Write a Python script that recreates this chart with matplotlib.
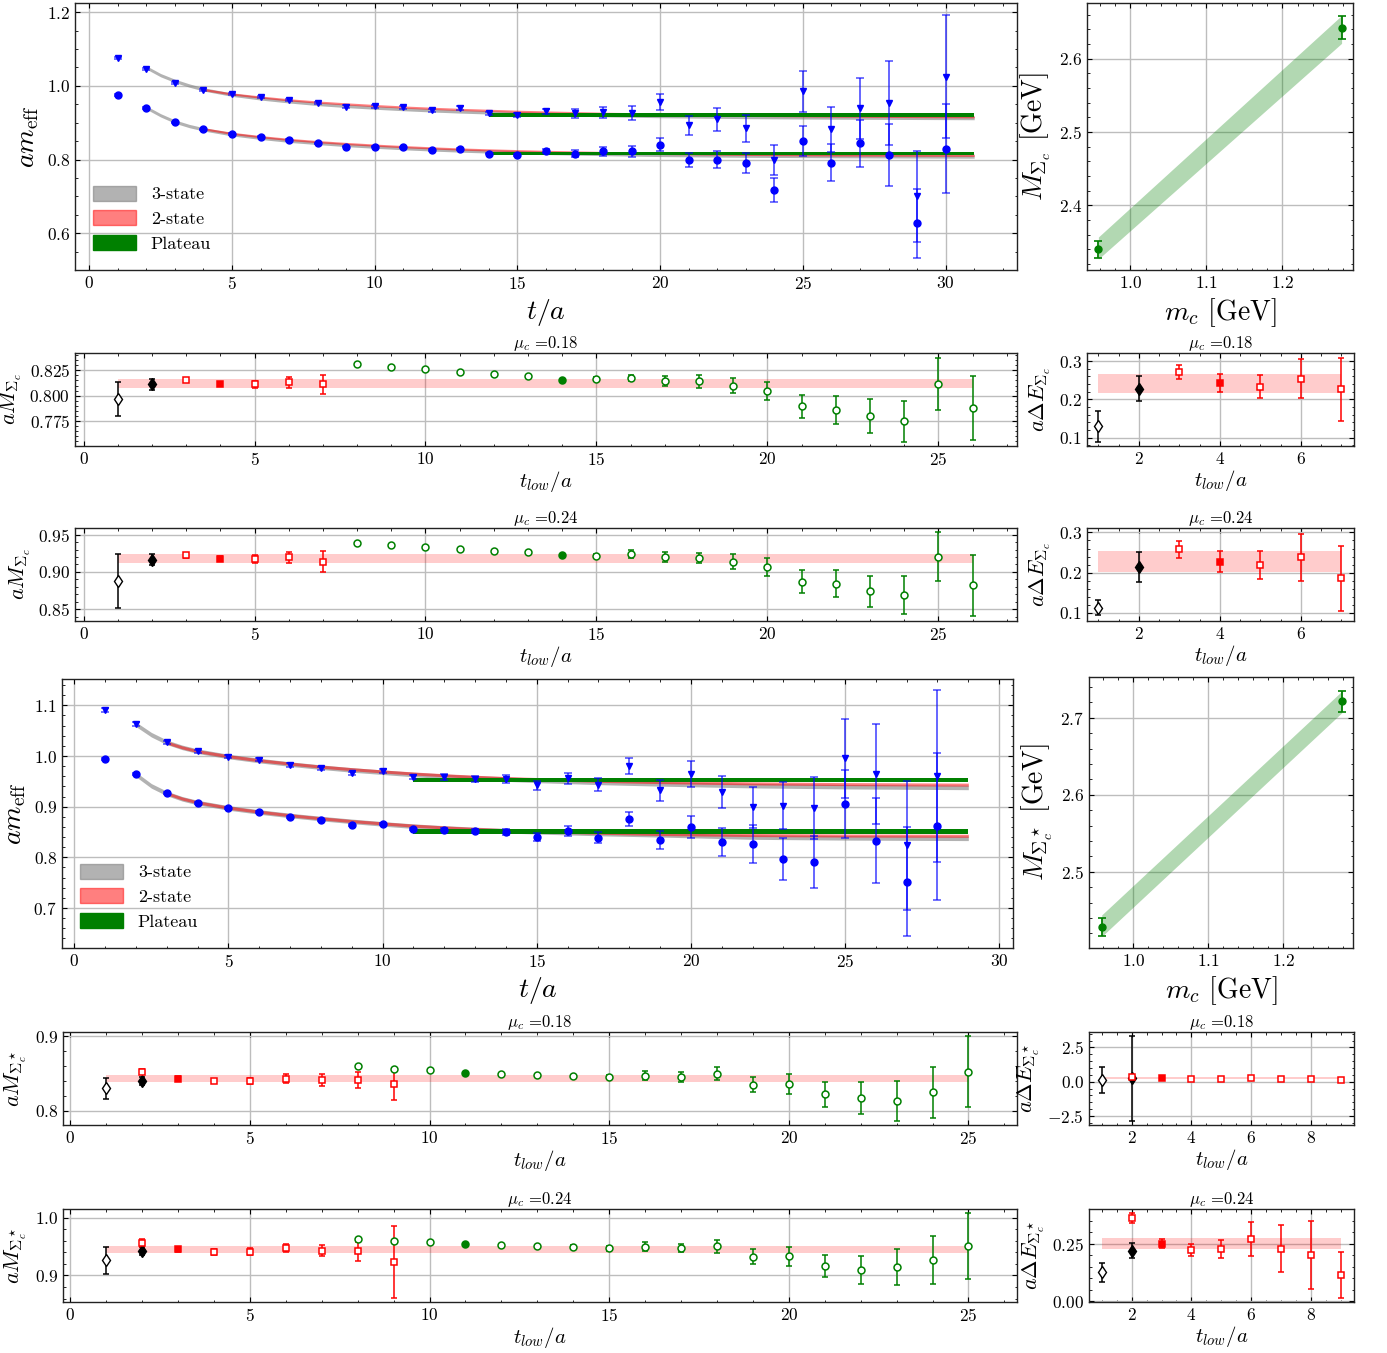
import numpy as np
import matplotlib
matplotlib.use("Agg")
import matplotlib.pyplot as plt
from matplotlib.patches import Patch
from matplotlib.ticker import AutoMinorLocator, MultipleLocator

plt.rcParams.update({
    "font.family": "serif",
    "font.serif": ["cmr10"],
    "mathtext.fontset": "cm",
    "axes.formatter.use_mathtext": True,
    "axes.linewidth": 1.0,
    "axes.edgecolor": "#222222",
    "xtick.major.size": 3.5,
    "ytick.major.size": 3.5,
    "xtick.minor.size": 1.8,
    "ytick.minor.size": 1.8,
})

# ---------------- effective masses, Sigma_c ----------------
sc_t = list(range(1, 31))
sc_circ = [0.9756, 0.9405, 0.9008, 0.8818, 0.8692, 0.862, 0.853, 0.844, 0.835, 0.835,
           0.833, 0.826, 0.829, 0.816, 0.8133, 0.824, 0.816, 0.8223, 0.8223, 0.8403,
           0.798, 0.7997, 0.7907, 0.7176, 0.8502, 0.7916, 0.844, 0.8133, 0.6266, 0.8295]
sc_circ_err = [0.002, 0.002, 0.002, 0.002, 0.002, 0.002, 0.002, 0.002, 0.002, 0.002,
               0.002, 0.002, 0.002, 0.002, 0.003, 0.0054, 0.009, 0.012, 0.0144, 0.017,
               0.019, 0.024, 0.028, 0.032, 0.042, 0.0496, 0.064, 0.084, 0.094, 0.12]
sc_tri = [1.0767, 1.046, 1.008, 0.989, 0.9775, 0.970, 0.962, 0.954, 0.943, 0.945,
          0.942, 0.934, 0.9396, 0.925, 0.9206, 0.9305, 0.925, 0.9278, 0.926, 0.9558,
          0.8927, 0.9089, 0.8845, 0.798, 0.9856, 0.8818, 0.9387, 0.9522, 0.6996, 1.0244]
sc_tri_err = [0.003, 0.003, 0.003, 0.003, 0.003, 0.003, 0.003, 0.003, 0.004, 0.004,
              0.004, 0.004, 0.005, 0.005, 0.005, 0.006, 0.011, 0.0158, 0.018, 0.0225,
              0.0248, 0.0316, 0.037, 0.041, 0.056, 0.062, 0.082, 0.114, 0.124, 0.167]

sc_fit3_t = [2, 2.5, 3, 3.5, 4, 5, 6, 7, 8, 9, 10, 11, 12, 13, 14, 15, 16, 18, 20, 23, 26, 31]
sc_fit3_lo = [0.941, 0.920, 0.903, 0.891, 0.882, 0.8685, 0.859, 0.851, 0.845, 0.8395, 0.835,
              0.831, 0.8275, 0.8245, 0.822, 0.820, 0.818, 0.815, 0.8125, 0.8105, 0.8092, 0.808]
sc_fit3_hi = [1.050, 1.029, 1.0135, 1.001, 0.9905, 0.976, 0.966, 0.958, 0.951, 0.9455, 0.941,
              0.937, 0.9335, 0.9305, 0.928, 0.926, 0.924, 0.9205, 0.918, 0.9155, 0.914, 0.9125]
sc_fit2_t = [4, 5, 6, 7, 8, 9, 10, 11, 12, 13, 14, 15, 16, 18, 20, 23, 26, 31]
sc_fit2_lo = [0.8835, 0.871, 0.862, 0.8545, 0.8485, 0.8435, 0.839, 0.835, 0.8315, 0.8285,
              0.826, 0.824, 0.822, 0.819, 0.8165, 0.814, 0.8125, 0.8115]
sc_fit2_hi = [0.990, 0.978, 0.9695, 0.962, 0.956, 0.951, 0.9465, 0.9425, 0.939, 0.936,
              0.9335, 0.931, 0.929, 0.9255, 0.923, 0.920, 0.918, 0.916]
sc_plat_t = [14, 31]
sc_plat_lo = 0.8155
sc_plat_hi = 0.9206

# ---------------- effective masses, Sigma_c^* ----------------
ss_t = list(range(1, 29))
ss_circ = [0.9934, 0.9638, 0.9263, 0.9079, 0.8967, 0.8901, 0.8803, 0.873, 0.8638, 0.8658,
           0.8553, 0.854, 0.8526, 0.850, 0.8395, 0.852, 0.8388, 0.8763, 0.8342, 0.8599,
           0.8303, 0.8263, 0.7967, 0.7914, 0.9046, 0.8329, 0.752, 0.8612]
ss_circ_err = [0.002, 0.002, 0.002, 0.002, 0.002, 0.002, 0.002, 0.002, 0.002, 0.002,
               0.002, 0.003, 0.004, 0.005, 0.0082, 0.0099, 0.011, 0.0138, 0.0174, 0.0217,
               0.027, 0.0368, 0.041, 0.0513, 0.0668, 0.0836, 0.1076, 0.145]
ss_tri = [1.0908, 1.0632, 1.027, 1.0092, 0.9987, 0.9928, 0.9822, 0.9757, 0.9664, 0.9704,
          0.9586, 0.9586, 0.9553, 0.9546, 0.942, 0.956, 0.9434, 0.981, 0.9322, 0.9645,
          0.929, 0.8987, 0.902, 0.8974, 0.996, 0.9645, 0.8237, 0.960]
ss_tri_err = [0.003, 0.003, 0.003, 0.003, 0.003, 0.003, 0.003, 0.003, 0.003, 0.004,
              0.004, 0.005, 0.006, 0.007, 0.0092, 0.011, 0.013, 0.0158, 0.021, 0.0266,
              0.032, 0.041, 0.046, 0.061, 0.078, 0.099, 0.127, 0.17]

ss_fit3_t = [2, 2.5, 3, 3.5, 4, 5, 6, 7, 8, 9, 10, 11, 12, 13, 14, 15, 17, 19, 22, 25, 29]
ss_fit3_lo = [0.9635, 0.941, 0.926, 0.9155, 0.908, 0.8975, 0.8895, 0.8825, 0.8765, 0.871, 0.866,
              0.8615, 0.858, 0.855, 0.8525, 0.8505, 0.847, 0.8445, 0.840, 0.8385, 0.8375]
ss_fit3_hi = [1.0625, 1.042, 1.027, 1.017, 1.0095, 0.999, 0.991, 0.984, 0.978, 0.9725, 0.968,
              0.9635, 0.960, 0.957, 0.9545, 0.952, 0.948, 0.945, 0.9415, 0.9395, 0.938]
ss_fit2_t = [3, 3.5, 4, 5, 6, 7, 8, 9, 10, 11, 12, 13, 14, 15, 17, 19, 22, 25, 29]
ss_fit2_lo = [0.9265, 0.916, 0.9085, 0.898, 0.890, 0.883, 0.877, 0.8715, 0.867, 0.8625,
              0.859, 0.856, 0.8535, 0.8515, 0.8485, 0.846, 0.844, 0.843, 0.8425]
ss_fit2_hi = [1.0265, 1.017, 1.0095, 0.9995, 0.9915, 0.985, 0.979, 0.974, 0.9695, 0.9655,
              0.962, 0.959, 0.9565, 0.9545, 0.951, 0.9485, 0.946, 0.9445, 0.9435]
ss_plat_t = [11, 29]
ss_plat_lo = 0.8513
ss_plat_hi = 0.9530

# ---------------- charm-mass dependence ----------------
mc = [0.958, 1.278]
msc = [2.340, 2.642]
msc_err = [0.0116, 0.0156]
msc_band_c = [2.342, 2.640]
msc_band_w = [0.015, 0.019]
mss = [2.4286, 2.7216]
mss_err = [0.012, 0.0136]
mss_band_c = [2.430, 2.7205]
mss_band_w = [0.014, 0.014]

# ---------------- t_low scans, Sigma_c ----------------
c18_dia = [0.7967, 0.8112]
c18_dia_err = [0.0164, 0.0053]
c18_red_t = [3, 4, 5, 6, 7]
c18_red = [0.8158, 0.8118, 0.8112, 0.8132, 0.8112]
c18_red_err = [0.0015, 0.002, 0.0036, 0.0056, 0.0092]
c18_grn_t = list(range(8, 27))
c18_grn = [0.8309, 0.828, 0.826, 0.8234, 0.8211, 0.8194, 0.8158, 0.816, 0.8174, 0.8141,
           0.814, 0.810, 0.8046, 0.7895, 0.786, 0.7796, 0.7747, 0.8115, 0.788]
c18_grn_err = [0.001, 0.001, 0.001, 0.001, 0.001, 0.001, 0.001, 0.002, 0.0033, 0.005,
               0.006, 0.0076, 0.009, 0.0115, 0.0135, 0.0168, 0.0204, 0.026, 0.0317]
c18_band = (0.8122, 0.0047)

c24_dia = [0.888, 0.9165]
c24_dia_err = [0.036, 0.007]
c24_red_t = [3, 4, 5, 6, 7]
c24_red = [0.9223, 0.918, 0.917, 0.9196, 0.9138]
c24_red_err = [0.003, 0.003, 0.0056, 0.0076, 0.014]
c24_grn_t = list(range(8, 27))
c24_grn = [0.939, 0.936, 0.934, 0.931, 0.9286, 0.9263, 0.9223, 0.9219, 0.9237, 0.9205,
           0.919, 0.9138, 0.907, 0.887, 0.884, 0.874, 0.869, 0.9205, 0.882]
c24_grn_err = [0.001, 0.001, 0.001, 0.001, 0.001, 0.001, 0.001, 0.002, 0.0054, 0.0067,
               0.007, 0.0096, 0.0123, 0.015, 0.018, 0.021, 0.025, 0.033, 0.041]
c24_band = (0.9177, 0.006)

dc18_dia = [0.129, 0.228]
dc18_dia_err = [0.040, 0.0335]
dc18_red_t = [3, 4, 5, 6, 7]
dc18_red = [0.272, 0.242, 0.233, 0.254, 0.226]
dc18_red_err = [0.018, 0.0235, 0.030, 0.051, 0.083]
dc18_band = (0.241, 0.024)

dc24_dia = [0.113, 0.214]
dc24_dia_err = [0.0185, 0.037]
dc24_red_t = [3, 4, 5, 6, 7]
dc24_red = [0.258, 0.227, 0.219, 0.238, 0.186]
dc24_red_err = [0.0206, 0.026, 0.034, 0.059, 0.080]
dc24_band = (0.2285, 0.026)

# ---------------- t_low scans, Sigma_c^* ----------------
s18_dia = [0.8305, 0.8404]
s18_dia_err = [0.0141, 0.005]
s18_red_t = [2, 3, 4, 5, 6, 7, 8, 9]
s18_red = [0.8529, 0.8435, 0.8404, 0.840, 0.8435, 0.842, 0.8417, 0.8359]
s18_red_err = [0.003, 0.003, 0.003, 0.004, 0.0056, 0.008, 0.0105, 0.0213]
s18_grn_t = list(range(8, 26))
s18_grn = [0.8605, 0.8565, 0.8547, 0.8511, 0.8498, 0.848, 0.8466, 0.8453, 0.8475, 0.8457,
           0.850, 0.8354, 0.8363, 0.822, 0.817, 0.813, 0.8247, 0.8529]
s18_grn_err = [0.001, 0.001, 0.001, 0.001, 0.001, 0.001, 0.002, 0.003, 0.006, 0.007,
               0.0083, 0.0099, 0.0135, 0.0168, 0.0215, 0.0265, 0.0345, 0.048]
s18_band = (0.8435, 0.0045)

s24_dia = [0.9266, 0.9428]
s24_dia_err = [0.0234, 0.007]
s24_red_t = [2, 3, 4, 5, 6, 7, 8, 9]
s24_red = [0.956, 0.945, 0.941, 0.941, 0.9468, 0.9428, 0.9416, 0.9237]
s24_red_err = [0.0067, 0.005, 0.005, 0.006, 0.007, 0.0098, 0.0168, 0.0627]
s24_grn_t = list(range(8, 26))
s24_grn = [0.9624, 0.9595, 0.9572, 0.9538, 0.9526, 0.9503, 0.9491, 0.9468, 0.9497, 0.9468,
           0.9503, 0.9324, 0.933, 0.9162, 0.9092, 0.9145, 0.9266, 0.9514]
s24_grn_err = [0.001, 0.001, 0.001, 0.001, 0.001, 0.001, 0.003, 0.004, 0.008, 0.007,
               0.0113, 0.0127, 0.016, 0.0197, 0.0246, 0.031, 0.041, 0.057]
s24_band = (0.945, 0.006)

ds18_dia = [0.12, 0.24]
ds18_dia_err = [0.95, 3.1]
ds18_red_t = [2, 3, 4, 5, 6, 7, 8, 9]
ds18_red = [0.34, 0.25, 0.20, 0.20, 0.27, 0.22, 0.22, 0.12]
ds18_red_err = [0.05, 0.05, 0.05, 0.05, 0.05, 0.05, 0.05, 0.05]
ds18_band = (0.25, 0.09)

ds24_dia = [0.1257, 0.2208]
ds24_dia_err = [0.0417, 0.0336]
ds24_red_t = [2, 3, 4, 5, 6, 7, 8, 9]
ds24_red = [0.3626, 0.25, 0.2237, 0.2266, 0.272, 0.2295, 0.203, 0.114]
ds24_red_err = [0.0205, 0.0197, 0.0278, 0.0387, 0.075, 0.104, 0.148, 0.099]
ds24_band = (0.2515, 0.025)


W, H = 1387, 1353
fig = plt.figure(figsize=(W / 100, H / 100), dpi=100)


def box(l, t, r, b):
    return fig.add_axes([l / W, 1 - b / H, (r - l) / W, (b - t) / H])


def style(ax, xstep, ystep, xlim, ylim):
    ax.xaxis.set_major_locator(MultipleLocator(xstep))
    ax.yaxis.set_major_locator(MultipleLocator(ystep))
    ax.xaxis.set_minor_locator(AutoMinorLocator())
    ax.yaxis.set_minor_locator(AutoMinorLocator())
    ax.tick_params(which="both", direction="in", top=True, right=True, labelsize=12.5)
    ax.grid(True, which="major", color="#bdbdbd", lw=1.0)
    ax.set_axisbelow(True)
    ax.set_xlim(*xlim)
    ax.set_ylim(*ylim)


def band(ax, t, y, hw, **kw):
    y = np.asarray(y)
    ax.fill_between(t, y - hw, y + hw, lw=0, **kw)


def meff_panel(ax, t, circ, circ_e, tri, tri_e, f3, f2, plat):
    f3_t, f3_lo, f3_hi = f3
    f2_t, f2_lo, f2_hi = f2
    p_t, p_lo, p_hi = plat
    for y in (f3_lo, f3_hi):
        band(ax, f3_t, y, 0.0045, color="#808080", alpha=0.6, zorder=2)
    for y in (f2_lo, f2_hi):
        band(ax, f2_t, y, 0.003, color="red", alpha=0.5, zorder=3)
    for y in (p_lo, p_hi):
        band(ax, p_t, [y, y], 0.0045, color="green", zorder=4)
    kw = dict(color="blue", ecolor=(0, 0, 1, 0.65), elinewidth=1.3, capsize=3,
              capthick=1.2, ms=5, ls="none", zorder=5)
    ax.errorbar(t, circ, yerr=circ_e, marker="o", **kw)
    ax.errorbar(t, tri, yerr=tri_e, marker="v", **kw)
    handles = [Patch(color="#808080", alpha=0.6, label="3-state"),
               Patch(color="red", alpha=0.5, label="2-state"),
               Patch(color="green", label="Plateau")]
    ax.legend(handles=handles, loc="lower left", frameon=False, fontsize=13,
              handlelength=2.4, handleheight=0.9, labelspacing=0.45, borderaxespad=0.6)
    ax.set_xlabel("$t/a$", fontsize=20)
    ax.set_ylabel(r"$am_{\rm eff}$", fontsize=20)


def mass_panel(ax, M, M_e, band_c, band_w, ylabel):
    c = np.asarray(band_c)
    w = np.asarray(band_w)
    ax.fill_between(mc, c - w, c + w, color="green", alpha=0.3, lw=0)
    ax.errorbar(mc, M, yerr=M_e, fmt="o", color="green", ms=5, capsize=3,
                elinewidth=1.3, capthick=1.2, zorder=5)
    ax.set_xlabel("$m_c$ [GeV]", fontsize=20)
    ax.set_ylabel(ylabel, fontsize=20)


def tlow_panel(ax, dia, dia_e, red_t, red, red_e, red_pick, band_x, bnd,
               grn_t=None, grn=None, grn_e=None, grn_pick=None):
    ax.fill_between(band_x, bnd[0] - bnd[1], bnd[0] + bnd[1], color="red",
                    alpha=0.2, lw=0, zorder=2)
    ekw = dict(capsize=2.5, elinewidth=1.1, capthick=1.1, ls="none", zorder=5)
    ax.errorbar([1], [dia[0]], yerr=[dia_e[0]], marker="d", ms=6, mfc="white",
                mec="black", color="black", **ekw)
    ax.errorbar([2], [dia[1]], yerr=[dia_e[1]], marker="d", ms=6, color="black", **ekw)
    if grn_t is not None:
        for t, y, e in zip(grn_t, grn, grn_e):
            fc = "green" if t == grn_pick else "white"
            ax.errorbar([t], [y], yerr=[e], marker="o", ms=5, mfc=fc, mec="green",
                        color="green", mew=1.1, **ekw)
    for t, y, e in zip(red_t, red, red_e):
        fc = "red" if t == red_pick else "white"
        ax.errorbar([t], [y], yerr=[e], marker="s", ms=5, mfc=fc, mec="red",
                    color="red", mew=1.1, **ekw)
    ax.set_xlabel("$t_{low}/a$", fontsize=15, labelpad=1)


def title(ax, mu):
    ax.set_title(r"$\mu_c$ =" + mu, fontsize=12, pad=3)


# ----- Sigma_c block -----
ax = box(75, 3, 1017, 270)
meff_panel(ax, sc_t, sc_circ, sc_circ_err, sc_tri, sc_tri_err,
           (sc_fit3_t, sc_fit3_lo, sc_fit3_hi), (sc_fit2_t, sc_fit2_lo, sc_fit2_hi),
           (sc_plat_t, sc_plat_lo, sc_plat_hi))
style(ax, 5, 0.2, (-0.5, 32.5), (0.5, 1.225))

ax = box(1087, 3, 1353, 270)
mass_panel(ax, msc, msc_err, msc_band_c, msc_band_w, r"$M_{\Sigma_c}$ [GeV]")
style(ax, 0.1, 0.1, (0.943, 1.293), (2.312, 2.676))

ax = box(75, 353, 1017, 446)
tlow_panel(ax, c18_dia, c18_dia_err, c18_red_t, c18_red, c18_red_err, 4, [1, 26], c18_band,
           c18_grn_t, c18_grn, c18_grn_err, 14)
ax.set_ylabel(r"$aM_{\Sigma_c}$", fontsize=16)
title(ax, "0.18")
style(ax, 5, 0.025, (-0.25, 27.3), (0.7505, 0.842))

ax = box(1087, 353, 1354, 446)
tlow_panel(ax, dc18_dia, dc18_dia_err, dc18_red_t, dc18_red, dc18_red_err, 4, [1, 7], dc18_band)
ax.set_ylabel(r"$a\Delta E_{\Sigma_c}$", fontsize=16)
title(ax, "0.18")
style(ax, 2, 0.1, (0.72, 7.31), (0.078, 0.321))

ax = box(75, 528, 1017, 621)
tlow_panel(ax, c24_dia, c24_dia_err, c24_red_t, c24_red, c24_red_err, 4, [1, 26], c24_band,
           c24_grn_t, c24_grn, c24_grn_err, 14)
ax.set_ylabel(r"$aM_{\Sigma_c}$", fontsize=16)
title(ax, "0.24")
style(ax, 5, 0.05, (-0.25, 27.3), (0.834, 0.959))

ax = box(1087, 528, 1354, 621)
tlow_panel(ax, dc24_dia, dc24_dia_err, dc24_red_t, dc24_red, dc24_red_err, 4, [1, 7], dc24_band)
ax.set_ylabel(r"$a\Delta E_{\Sigma_c}$", fontsize=16)
title(ax, "0.24")
style(ax, 2, 0.1, (0.72, 7.31), (0.080, 0.311))

# ----- Sigma_c^* block -----
ax = box(62, 679, 1013, 948)
meff_panel(ax, ss_t, ss_circ, ss_circ_err, ss_tri, ss_tri_err,
           (ss_fit3_t, ss_fit3_lo, ss_fit3_hi), (ss_fit2_t, ss_fit2_lo, ss_fit2_hi),
           (ss_plat_t, ss_plat_lo, ss_plat_hi))
style(ax, 5, 0.1, (-0.4, 30.45), (0.621, 1.152))

ax = box(1089, 677, 1353, 948)
mass_panel(ax, mss, mss_err, mss_band_c, mss_band_w, r"$M_{\Sigma^\star_c}$ [GeV]")
style(ax, 0.1, 0.1, (0.941, 1.293), (2.401, 2.753))

ax = box(63, 1032, 1017, 1125)
tlow_panel(ax, s18_dia, s18_dia_err, s18_red_t, s18_red, s18_red_err, 3, [1, 25], s18_band,
           s18_grn_t, s18_grn, s18_grn_err, 11)
ax.set_ylabel(r"$aM_{\Sigma^\star_c}$", fontsize=16)
title(ax, "0.18")
style(ax, 5, 0.1, (-0.2, 26.35), (0.781, 0.906))

ax = box(1089, 1032, 1354, 1125)
tlow_panel(ax, ds18_dia, ds18_dia_err, ds18_red_t, ds18_red, ds18_red_err, 3, [1, 9], ds18_band)
ax.set_ylabel(r"$a\Delta E_{\Sigma^\star_c}$", fontsize=16)
title(ax, "0.18")
style(ax, 2, 2.5, (0.57, 9.45), (-3.16, 3.62))

ax = box(63, 1209, 1017, 1302)
tlow_panel(ax, s24_dia, s24_dia_err, s24_red_t, s24_red, s24_red_err, 3, [1, 25], s24_band,
           s24_grn_t, s24_grn, s24_grn_err, 11)
ax.set_ylabel(r"$aM_{\Sigma^\star_c}$", fontsize=16)
title(ax, "0.24")
style(ax, 5, 0.1, (-0.2, 26.35), (0.854, 1.015))

ax = box(1089, 1209, 1354, 1302)
tlow_panel(ax, ds24_dia, ds24_dia_err, ds24_red_t, ds24_red, ds24_red_err, 3, [1, 9], ds24_band)
ax.set_ylabel(r"$a\Delta E_{\Sigma^\star_c}$", fontsize=16)
title(ax, "0.24")
style(ax, 2, 0.25, (0.57, 9.45), (-0.003, 0.402))

fig.savefig("out.png", dpi=100)
